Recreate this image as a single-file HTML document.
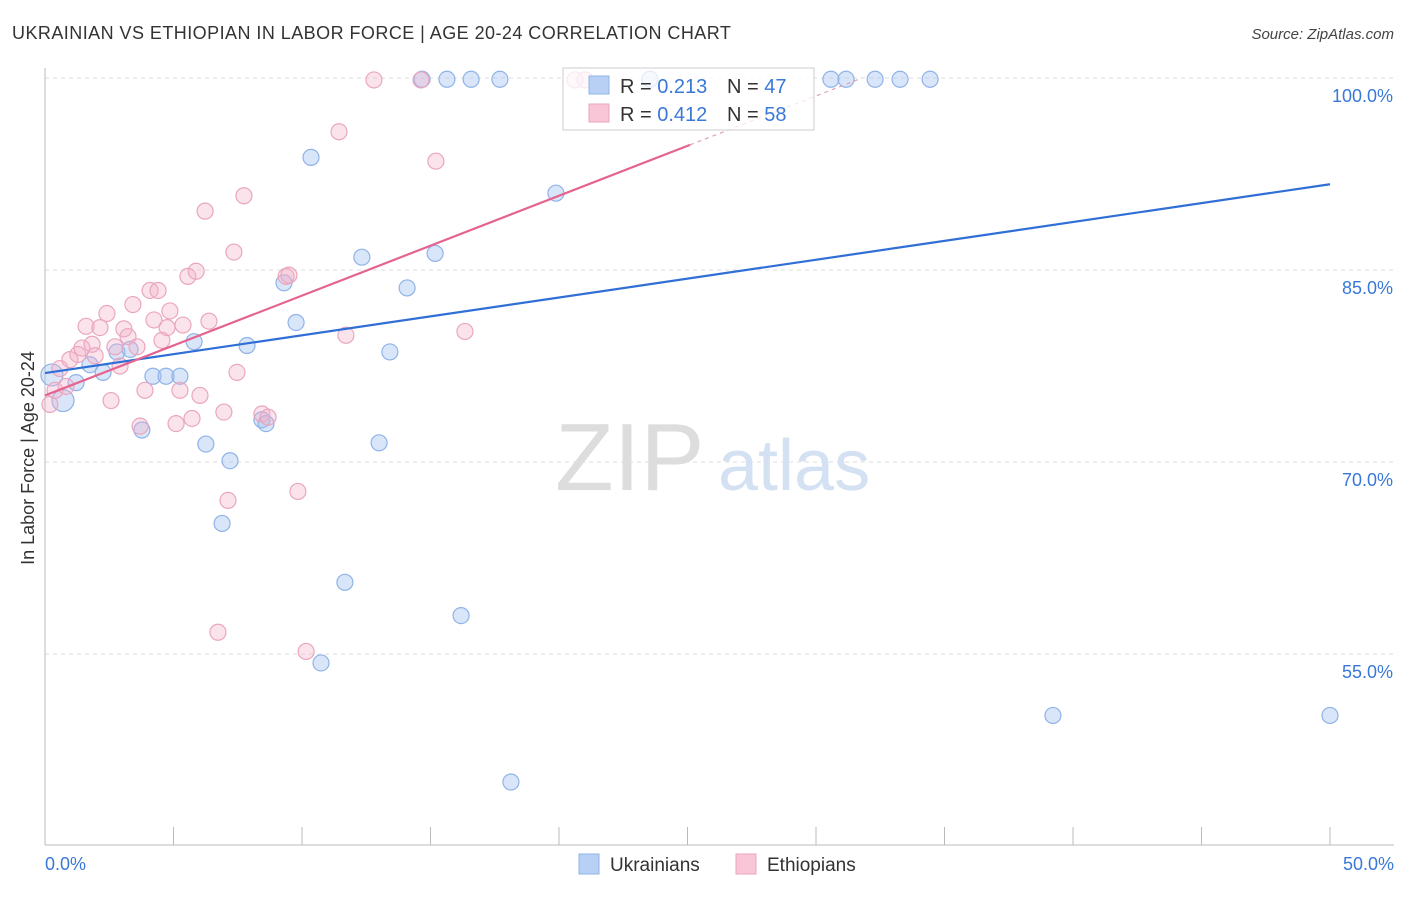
<!DOCTYPE html>
<html><head><meta charset="utf-8"><style>
body{margin:0;background:#fff;font-family:"Liberation Sans",sans-serif;}
svg text{font-family:"Liberation Sans",sans-serif;}
</style></head><body>
<svg id="chart" width="1406" height="892">
<text x="12" y="39" font-size="18" fill="#333" letter-spacing="0.45">UKRAINIAN VS ETHIOPIAN IN LABOR FORCE | AGE 20-24 CORRELATION CHART</text>
<text x="1394" y="39" font-size="15" fill="#444" text-anchor="end" font-style="italic">Source: ZipAtlas.com</text>
<g id="grid"></g>
<text x="555" y="490" font-size="96" fill="#ddd" font-family="Liberation Serif">ZIP</text>
<text x="718" y="490" font-size="72" fill="#d3e1f3">atlas</text>
<g id="pts"></g><g id="lines"></g>
<text x="34" y="458" font-size="18" fill="#333" text-anchor="middle" transform="rotate(-90 34 458)">In Labor Force | Age 20-24</text>
<g>
<rect x="563" y="68" width="251" height="62" fill="rgba(255,255,255,0.75)" stroke="#ccc"/>
<rect x="589" y="76" width="20" height="18" fill="#b7d0f3" stroke="#8fb3e8"/>
<text x="620" y="93" font-size="20" fill="#333">R = <tspan fill="#3a78d8">0.213</tspan></text>
<text x="727" y="93" font-size="20" fill="#333">N = <tspan fill="#3a78d8">47</tspan></text>
<rect x="589" y="104" width="20" height="18" fill="#f8c6d6" stroke="#eaa6bf"/>
<text x="620" y="121" font-size="20" fill="#333">R = <tspan fill="#3a78d8">0.412</tspan></text>
<text x="727" y="121" font-size="20" fill="#333">N = <tspan fill="#3a78d8">58</tspan></text>
</g>
<g>
<rect x="579" y="854" width="20" height="20" fill="#b7d0f3" stroke="#8fb3e8"/>
<text x="610" y="871" font-size="19" fill="#333">Ukrainians</text>
<rect x="736" y="854" width="20" height="20" fill="#f8c6d6" stroke="#eaa6bf"/>
<text x="767" y="871" font-size="19" fill="#333">Ethiopians</text>
</g>
</svg>
<script>
const yTicks=[100,85,70,55];
const xTickLabels=["0.0%","50.0%"];
const blueX=[0.27,0.70,1.21,1.75,2.26,2.80,3.31,3.77,4.20,4.71,5.25,5.80,6.26,6.89,7.20,7.86,8.44,8.60,9.30,9.77,10.35,10.74,11.67,12.33,13.0,13.42,14.09,14.67,15.18,15.64,16.19,16.58,17.70,18.13,19.88,23.54,30.58,31.17,32.30,33.27,34.44,39.22,50.0];
const blueY=[76.8,74.8,76.2,77.6,77.0,78.6,78.8,72.5,76.7,76.7,76.7,79.4,71.4,65.2,70.1,79.1,73.3,73.0,84.0,80.9,93.8,54.3,60.6,86.0,71.5,78.6,83.6,99.9,86.3,99.9,58.0,99.9,99.9,45.0,91.0,99.9,99.9,99.9,99.9,99.9,99.9,50.2,50.2];
const pinkX=[0.19,0.39,0.58,0.82,0.97,1.28,1.44,1.60,1.83,1.95,2.14,2.41,2.57,2.72,2.92,3.07,3.23,3.42,3.58,3.70,3.89,4.09,4.24,4.40,4.55,4.75,4.86,5.10,5.25,5.37,5.56,5.72,5.88,6.03,6.23,6.38,6.73,6.96,7.12,7.35,7.47,7.74,8.44,8.68,9.38,9.49,9.84,10.16,11.44,11.71,12.80,14.63,15.21,16.34,20.62,21.01];
const pinkY=[74.5,75.6,77.3,75.9,78.0,78.4,78.9,80.6,79.2,78.3,80.5,81.6,74.8,79.0,77.5,80.4,79.8,82.3,79.0,72.8,75.6,83.4,81.1,83.4,79.5,80.5,81.8,73.0,75.6,80.7,84.5,73.4,84.9,75.2,89.6,81.0,56.7,73.9,67.0,86.4,77.0,90.8,73.75,73.5,84.5,84.6,67.7,55.2,95.8,79.9,99.85,99.85,93.5,80.2,99.85,99.85];
const blueTrend=[76.95,91.7]; // value at x=0, x=50
const pinkTrend=[75.2,0.78]; // intercept, slope per %
const NS="http://www.w3.org/2000/svg";
const X=v=>45+v*25.7, Y=v=>78+(100-v)*12.8;
function mk(t,a,p){const e=document.createElementNS(NS,t);for(const k in a)e.setAttribute(k,a[k]);p.appendChild(e);return e;}
const g=document.getElementById('grid');
yTicks.forEach(t=>{
 const l=mk('line',{x1:45,x2:1394,y1:Y(t),y2:Y(t),stroke:'#ddd','stroke-dasharray':'4,4'},g);
 
 
 const tx=mk('text',{x:1393,y:Y(t)+24,'font-size':18,fill:'#3a78d8','text-anchor':'end'},g);
 tx.textContent=t.toFixed(1)+'%';
 
 
});
mk('line',{x1:45,x2:45,y1:68,y2:845,stroke:'#bbb'},g);
mk('line',{x1:45,x2:1394,y1:845,y2:845,stroke:'#bbb'},g);
for(let i=0;i<=10;i++){mk('line',{x1:X(i*5),x2:X(i*5),y1:827,y2:845,stroke:'#bbb'},g);}
xTickLabels.forEach((s,i)=>{
 const tx=mk('text',{x:i?1394:45,y:870,'font-size':18,fill:'#3a78d8','text-anchor':i?'end':'start'},g);
 tx.textContent=s;
 
 
});
const p=document.getElementById('pts');
blueX.forEach((x,i)=>{
 const c=mk('circle',{cx:X(x),cy:Y(blueY[i]),r:i<2?11:8,fill:'rgba(160,192,240,0.4)',stroke:'#8fb3e8','stroke-width':1.2},p);
 
 
});
pinkX.forEach((x,i)=>{
 const c=mk('circle',{cx:X(x),cy:Y(pinkY[i]),r:8,fill:'rgba(243,175,200,0.35)',stroke:'#eaa6bf','stroke-width':1.2},p);
 
 
});
const L=document.getElementById('lines');
const bl=mk('line',{x1:X(0),y1:Y(blueTrend[0]),x2:X(50),y2:Y(blueTrend[1]),stroke:'#2f6fd6','stroke-width':2.2},L);


const xe=25.1, xd=(100-pinkTrend[0])/pinkTrend[1];
const pl=mk('line',{x1:X(0),y1:Y(pinkTrend[0]),x2:X(xe),y2:Y(pinkTrend[0]+pinkTrend[1]*xe),stroke:'#e4648f','stroke-width':2.2},L);


const pd=mk('line',{x1:X(xe),y1:Y(pinkTrend[0]+pinkTrend[1]*xe),x2:X(xd),y2:Y(100),stroke:'#e4a0b8','stroke-width':1.2,'stroke-dasharray':'4,4'},L);


</script>
</body></html>
